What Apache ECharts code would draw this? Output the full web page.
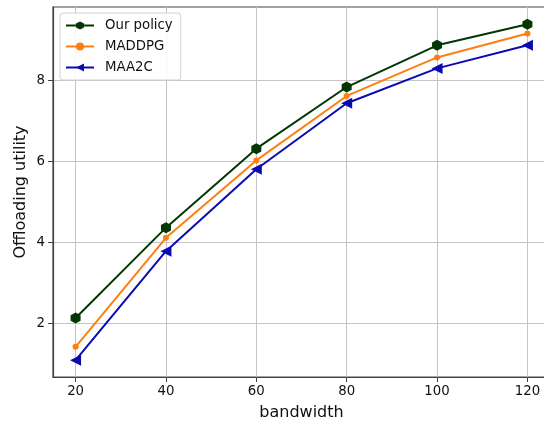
<!DOCTYPE html>
<html><head><meta charset="utf-8">
<script src="https://cdn.jsdelivr.net/npm/echarts@6/dist/echarts.min.js"></script>
<style>html,body{margin:0;padding:0;background:#fff}#c{width:544px;height:423px}</style>
</head><body><div id="c"></div>
<script>
const bandwidth = [20, 40, 60, 80, 100, 120];
const ourPolicy = [2.13, 4.36, 6.31, 7.83, 8.86, 9.38];
const maddpg = [1.42, 4.11, 6.02, 7.61, 8.56, 9.15];
const maa2c = [1.09, 3.78, 5.80, 7.43, 8.29, 8.86];
const xTicks = [20, 40, 60, 80, 100, 120];
const yTicks = [2, 4, 6, 8];

const font = 'DejaVu Sans';
const hex = 'path://M0,-1L0.866,-0.5L0.866,0.5L0,1L-0.866,0.5L-0.866,-0.5Z';
function pairs(v){ return bandwidth.map((x,i)=>[x,v[i]]); }

const chart = echarts.init(document.getElementById('c'));
chart.setOption({
  animation: false,
  textStyle: {fontFamily: font},
  grid: {left: 53, top: 7, bottom: 46, right: -6, show: true, borderColor: '#444', borderWidth: 1.2,
         containLabel: false, outerBoundsMode: 'none'},
  legend: {
    orient: 'vertical', left: 60, top: 13,
    itemWidth: 28, itemHeight: 10, itemGap: 8,
    padding: [6, 8, 6, 5],
    backgroundColor: 'rgba(255,255,255,0.85)',
    borderColor: '#d0d0d0', borderWidth: 1, borderRadius: 3,
    textStyle: {fontFamily: font, fontSize: 13.3, color: '#111', padding: [0,0,0,6]},
    data: ['Our policy', 'MADDPG', 'MAA2C']
  },
  xAxis: {
    type: 'value', min: 15, max: 125,
    name: 'bandwidth', nameLocation: 'middle', nameGap: 28, nameMoveOverlap: false,
    nameTextStyle: {fontFamily: font, fontSize: 16, color: '#111'},
    axisLine: {show: true, onZero: false, lineStyle: {color: '#444', width: 1.2}},
    axisTick: {show: true, length: 5, customValues: xTicks, lineStyle: {color: '#444'}},
    axisLabel: {customValues: xTicks, fontFamily: font, fontSize: 13.3, color: '#111', margin: 8},
    splitLine: {show: true, lineStyle: {color: '#c4c4c4', width: 1}}
  },
  yAxis: {
    type: 'value', min: 0.675, max: 9.805,
    name: 'Offloading utility', nameLocation: 'middle', nameGap: 24, nameMoveOverlap: false,
    nameTextStyle: {fontFamily: font, fontSize: 16, color: '#111'},
    axisLine: {show: true, onZero: false, lineStyle: {color: '#444', width: 1.2}},
    axisTick: {show: true, length: 5, customValues: yTicks, lineStyle: {color: '#444'}},
    axisLabel: {customValues: yTicks, fontFamily: font, fontSize: 13.3, color: '#111', margin: 8},
    splitLine: {show: true, lineStyle: {color: '#c4c4c4', width: 1}}
  },
  series: [
    {name: 'Our policy', type: 'line', data: pairs(ourPolicy), symbol: hex, symbolSize: [10, 11], z: 3,
     itemStyle: {color: '#033603'}, lineStyle: {color: '#033603', width: 2}},
    {name: 'MADDPG', type: 'line', data: pairs(maddpg), symbol: 'circle', symbolSize: 6, z: 3,
     itemStyle: {color: '#ff7f0e'}, lineStyle: {color: '#ff7f0e', width: 2}},
    {name: 'MAA2C', type: 'line', data: pairs(maa2c), symbol: 'triangle', symbolSize: 11, symbolRotate: 90, z: 3,
     itemStyle: {color: '#0a0ab0'}, lineStyle: {color: '#0a0ab0', width: 2}}
  ]
});
</script></body></html>
